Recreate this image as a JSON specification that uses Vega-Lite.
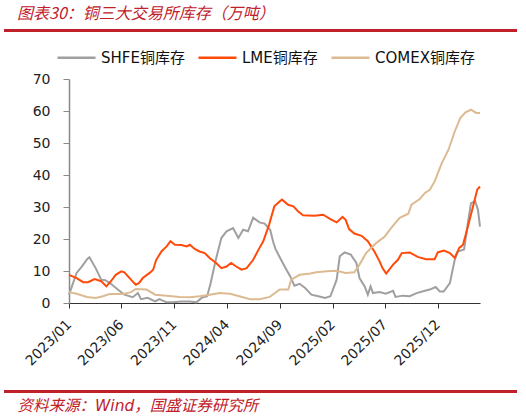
{
  "$schema": "https://vega.github.io/schema/vega-lite/v6.json",
  "autosize": "none",
  "width": 411,
  "height": 224,
  "padding": {"left": 69, "top": 79, "right": 46, "bottom": 114},
  "background": "white",
  "config": {"view": {"stroke": null}},
  "title": {
    "text": "图表30：铜三大交易所库存（万吨）",
    "anchor": "start",
    "frame": "group",
    "dx": -52,
    "offset": 8,
    "font": "Noto Sans CJK SC",
    "fontSize": 16,
    "fontStyle": "italic",
    "fontWeight": "normal",
    "color": "#C0202A"
  },
  "data": {
    "values": [
      {"d": "2023-01-01", "s": "SHFE铜库存", "v": 2.6},
      {"d": "2023-01-23", "s": "SHFE铜库存", "v": 9.4},
      {"d": "2023-02-07", "s": "SHFE铜库存", "v": 11.4},
      {"d": "2023-02-23", "s": "SHFE铜库存", "v": 13.8},
      {"d": "2023-03-01", "s": "SHFE铜库存", "v": 14.3},
      {"d": "2023-03-19", "s": "SHFE铜库存", "v": 10.9},
      {"d": "2023-04-04", "s": "SHFE铜库存", "v": 7.3},
      {"d": "2023-04-16", "s": "SHFE铜库存", "v": 7.1},
      {"d": "2023-05-02", "s": "SHFE铜库存", "v": 6.0},
      {"d": "2023-05-22", "s": "SHFE铜库存", "v": 4.2},
      {"d": "2023-06-10", "s": "SHFE铜库存", "v": 2.6},
      {"d": "2023-07-04", "s": "SHFE铜库存", "v": 1.8},
      {"d": "2023-07-19", "s": "SHFE铜库存", "v": 3.1},
      {"d": "2023-07-28", "s": "SHFE铜库存", "v": 1.2},
      {"d": "2023-08-16", "s": "SHFE铜库存", "v": 1.6},
      {"d": "2023-09-07", "s": "SHFE铜库存", "v": 0.5},
      {"d": "2023-09-19", "s": "SHFE铜库存", "v": 1.2},
      {"d": "2023-10-10", "s": "SHFE铜库存", "v": 0.2},
      {"d": "2023-10-28", "s": "SHFE铜库存", "v": 0.2},
      {"d": "2023-11-22", "s": "SHFE铜库存", "v": 0.5},
      {"d": "2023-12-16", "s": "SHFE铜库存", "v": 0.5},
      {"d": "2024-01-04", "s": "SHFE铜库存", "v": 0.2},
      {"d": "2024-01-19", "s": "SHFE铜库存", "v": 1.6},
      {"d": "2024-02-04", "s": "SHFE铜库存", "v": 2.1},
      {"d": "2024-02-14", "s": "SHFE铜库存", "v": 6.2},
      {"d": "2024-02-29", "s": "SHFE铜库存", "v": 13.5},
      {"d": "2024-03-16", "s": "SHFE铜库存", "v": 20.3},
      {"d": "2024-03-31", "s": "SHFE铜库存", "v": 22.4},
      {"d": "2024-04-19", "s": "SHFE铜库存", "v": 23.4},
      {"d": "2024-05-04", "s": "SHFE铜库存", "v": 20.3},
      {"d": "2024-05-18", "s": "SHFE铜库存", "v": 22.9},
      {"d": "2024-06-01", "s": "SHFE铜库存", "v": 22.4},
      {"d": "2024-06-16", "s": "SHFE铜库存", "v": 26.7},
      {"d": "2024-07-04", "s": "SHFE铜库存", "v": 25.2},
      {"d": "2024-07-19", "s": "SHFE铜库存", "v": 24.8},
      {"d": "2024-08-04", "s": "SHFE铜库存", "v": 22.9},
      {"d": "2024-08-13", "s": "SHFE铜库存", "v": 19.0},
      {"d": "2024-08-19", "s": "SHFE铜库存", "v": 17.0},
      {"d": "2024-09-01", "s": "SHFE铜库存", "v": 14.2},
      {"d": "2024-09-16", "s": "SHFE铜库存", "v": 11.2},
      {"d": "2024-10-01", "s": "SHFE铜库存", "v": 8.3},
      {"d": "2024-10-13", "s": "SHFE铜库存", "v": 5.4},
      {"d": "2024-10-28", "s": "SHFE铜库存", "v": 6.0},
      {"d": "2024-11-13", "s": "SHFE铜库存", "v": 4.7},
      {"d": "2024-12-01", "s": "SHFE铜库存", "v": 2.6},
      {"d": "2024-12-21", "s": "SHFE铜库存", "v": 2.1},
      {"d": "2025-01-10", "s": "SHFE铜库存", "v": 1.6},
      {"d": "2025-01-25", "s": "SHFE铜库存", "v": 2.1},
      {"d": "2025-02-12", "s": "SHFE铜库存", "v": 7.3},
      {"d": "2025-02-21", "s": "SHFE铜库存", "v": 14.6},
      {"d": "2025-03-07", "s": "SHFE铜库存", "v": 15.8},
      {"d": "2025-03-25", "s": "SHFE铜库存", "v": 15.1},
      {"d": "2025-04-10", "s": "SHFE铜库存", "v": 12.5},
      {"d": "2025-04-19", "s": "SHFE铜库存", "v": 7.8},
      {"d": "2025-05-04", "s": "SHFE铜库存", "v": 5.2},
      {"d": "2025-05-13", "s": "SHFE铜库存", "v": 2.6},
      {"d": "2025-05-21", "s": "SHFE铜库存", "v": 5.2},
      {"d": "2025-05-28", "s": "SHFE铜库存", "v": 3.1},
      {"d": "2025-06-16", "s": "SHFE铜库存", "v": 3.4},
      {"d": "2025-07-04", "s": "SHFE铜库存", "v": 2.9},
      {"d": "2025-07-25", "s": "SHFE铜库存", "v": 3.8},
      {"d": "2025-08-01", "s": "SHFE铜库存", "v": 1.9},
      {"d": "2025-08-22", "s": "SHFE铜库存", "v": 2.3},
      {"d": "2025-09-11", "s": "SHFE铜库存", "v": 2.1},
      {"d": "2025-10-01", "s": "SHFE铜库存", "v": 3.1},
      {"d": "2025-10-25", "s": "SHFE铜库存", "v": 3.8},
      {"d": "2025-11-08", "s": "SHFE铜库存", "v": 4.2},
      {"d": "2025-11-25", "s": "SHFE铜库存", "v": 5.0},
      {"d": "2025-12-07", "s": "SHFE铜库存", "v": 3.6},
      {"d": "2025-12-18", "s": "SHFE铜库存", "v": 3.6},
      {"d": "2026-01-05", "s": "SHFE铜库存", "v": 6.2},
      {"d": "2026-01-19", "s": "SHFE铜库存", "v": 13.5},
      {"d": "2026-01-28", "s": "SHFE铜库存", "v": 16.1},
      {"d": "2026-02-15", "s": "SHFE铜库存", "v": 16.7},
      {"d": "2026-02-26", "s": "SHFE铜库存", "v": 25.0},
      {"d": "2026-03-07", "s": "SHFE铜库存", "v": 31.2},
      {"d": "2026-03-19", "s": "SHFE铜库存", "v": 31.8},
      {"d": "2026-03-27", "s": "SHFE铜库存", "v": 29.2},
      {"d": "2026-04-02", "s": "SHFE铜库存", "v": 23.9},
      {"d": "2023-01-01", "s": "LME铜库存", "v": 8.8},
      {"d": "2023-01-23", "s": "LME铜库存", "v": 7.8},
      {"d": "2023-02-11", "s": "LME铜库存", "v": 6.5},
      {"d": "2023-02-25", "s": "LME铜库存", "v": 6.5},
      {"d": "2023-03-16", "s": "LME铜库存", "v": 7.5},
      {"d": "2023-04-04", "s": "LME铜库存", "v": 6.8},
      {"d": "2023-04-19", "s": "LME铜库存", "v": 5.2},
      {"d": "2023-05-02", "s": "LME铜库存", "v": 6.8},
      {"d": "2023-05-16", "s": "LME铜库存", "v": 8.8},
      {"d": "2023-06-01", "s": "LME铜库存", "v": 9.9},
      {"d": "2023-06-10", "s": "LME铜库存", "v": 9.6},
      {"d": "2023-06-29", "s": "LME铜库存", "v": 7.3},
      {"d": "2023-07-13", "s": "LME铜库存", "v": 5.7},
      {"d": "2023-07-22", "s": "LME铜库存", "v": 6.2},
      {"d": "2023-08-02", "s": "LME铜库存", "v": 7.8},
      {"d": "2023-08-22", "s": "LME铜库存", "v": 9.4},
      {"d": "2023-09-01", "s": "LME铜库存", "v": 10.4},
      {"d": "2023-09-10", "s": "LME铜库存", "v": 13.5},
      {"d": "2023-09-25", "s": "LME铜库存", "v": 16.1},
      {"d": "2023-10-10", "s": "LME铜库存", "v": 17.7},
      {"d": "2023-10-21", "s": "LME铜库存", "v": 19.3},
      {"d": "2023-11-03", "s": "LME铜库存", "v": 18.2},
      {"d": "2023-11-22", "s": "LME铜库存", "v": 18.1},
      {"d": "2023-12-07", "s": "LME铜库存", "v": 17.7},
      {"d": "2023-12-16", "s": "LME铜库存", "v": 18.2},
      {"d": "2023-12-30", "s": "LME铜库存", "v": 16.9},
      {"d": "2024-01-13", "s": "LME铜库存", "v": 16.1},
      {"d": "2024-01-28", "s": "LME铜库存", "v": 15.6},
      {"d": "2024-02-12", "s": "LME铜库存", "v": 14.0},
      {"d": "2024-03-01", "s": "LME铜库存", "v": 12.5},
      {"d": "2024-03-16", "s": "LME铜库存", "v": 10.9},
      {"d": "2024-03-31", "s": "LME铜库存", "v": 11.4},
      {"d": "2024-04-13", "s": "LME铜库存", "v": 12.5},
      {"d": "2024-04-28", "s": "LME铜库存", "v": 11.4},
      {"d": "2024-05-13", "s": "LME铜库存", "v": 10.4},
      {"d": "2024-05-28", "s": "LME铜库存", "v": 10.9},
      {"d": "2024-06-16", "s": "LME铜库存", "v": 13.5},
      {"d": "2024-07-01", "s": "LME铜库存", "v": 16.6},
      {"d": "2024-07-15", "s": "LME铜库存", "v": 19.3},
      {"d": "2024-08-01", "s": "LME铜库存", "v": 24.5},
      {"d": "2024-08-16", "s": "LME铜库存", "v": 30.2},
      {"d": "2024-09-01", "s": "LME铜库存", "v": 31.8},
      {"d": "2024-09-07", "s": "LME铜库存", "v": 32.3},
      {"d": "2024-09-25", "s": "LME铜库存", "v": 30.7},
      {"d": "2024-10-10", "s": "LME铜库存", "v": 30.2},
      {"d": "2024-10-24", "s": "LME铜库存", "v": 28.6},
      {"d": "2024-11-07", "s": "LME铜库存", "v": 27.4},
      {"d": "2024-12-10", "s": "LME铜库存", "v": 27.3},
      {"d": "2025-01-04", "s": "LME铜库存", "v": 27.6},
      {"d": "2025-01-25", "s": "LME铜库存", "v": 26.2},
      {"d": "2025-02-12", "s": "LME铜库存", "v": 25.2},
      {"d": "2025-03-01", "s": "LME铜库存", "v": 26.9},
      {"d": "2025-03-10", "s": "LME铜库存", "v": 26.0},
      {"d": "2025-03-20", "s": "LME铜库存", "v": 23.1},
      {"d": "2025-04-04", "s": "LME铜库存", "v": 21.7},
      {"d": "2025-04-25", "s": "LME铜库存", "v": 21.0},
      {"d": "2025-05-13", "s": "LME铜库存", "v": 19.3},
      {"d": "2025-06-01", "s": "LME铜库存", "v": 16.1},
      {"d": "2025-06-16", "s": "LME铜库存", "v": 13.0},
      {"d": "2025-06-24", "s": "LME铜库存", "v": 11.0},
      {"d": "2025-07-05", "s": "LME铜库存", "v": 9.2},
      {"d": "2025-07-25", "s": "LME铜库存", "v": 12.0},
      {"d": "2025-08-08", "s": "LME铜库存", "v": 13.5},
      {"d": "2025-08-19", "s": "LME铜库存", "v": 15.6},
      {"d": "2025-09-11", "s": "LME铜库存", "v": 15.8},
      {"d": "2025-10-04", "s": "LME铜库存", "v": 14.4},
      {"d": "2025-10-28", "s": "LME铜库存", "v": 13.7},
      {"d": "2025-11-22", "s": "LME铜库存", "v": 13.7},
      {"d": "2025-12-01", "s": "LME铜库存", "v": 15.8},
      {"d": "2025-12-19", "s": "LME铜库存", "v": 16.4},
      {"d": "2026-01-05", "s": "LME铜库存", "v": 15.6},
      {"d": "2026-01-19", "s": "LME铜库存", "v": 14.1},
      {"d": "2026-02-01", "s": "LME铜库存", "v": 17.2},
      {"d": "2026-02-12", "s": "LME铜库存", "v": 18.2},
      {"d": "2026-02-26", "s": "LME铜库存", "v": 23.9},
      {"d": "2026-03-13", "s": "LME铜库存", "v": 30.2},
      {"d": "2026-03-25", "s": "LME铜库存", "v": 35.4},
      {"d": "2026-04-02", "s": "LME铜库存", "v": 36.4},
      {"d": "2023-01-01", "s": "COMEX铜库存", "v": 3.4},
      {"d": "2023-01-23", "s": "COMEX铜库存", "v": 2.9},
      {"d": "2023-02-22", "s": "COMEX铜库存", "v": 1.9},
      {"d": "2023-03-19", "s": "COMEX铜库存", "v": 1.6},
      {"d": "2023-04-09", "s": "COMEX铜库存", "v": 2.1},
      {"d": "2023-04-28", "s": "COMEX铜库存", "v": 2.8},
      {"d": "2023-06-07", "s": "COMEX铜库存", "v": 2.8},
      {"d": "2023-06-29", "s": "COMEX铜库存", "v": 3.4},
      {"d": "2023-07-13", "s": "COMEX铜库存", "v": 4.4},
      {"d": "2023-08-13", "s": "COMEX铜库存", "v": 4.2},
      {"d": "2023-09-07", "s": "COMEX铜库存", "v": 2.6},
      {"d": "2023-10-10", "s": "COMEX铜库存", "v": 2.3},
      {"d": "2023-11-16", "s": "COMEX铜库存", "v": 1.9},
      {"d": "2023-12-16", "s": "COMEX铜库存", "v": 1.8},
      {"d": "2024-01-13", "s": "COMEX铜库存", "v": 2.1},
      {"d": "2024-02-12", "s": "COMEX铜库存", "v": 2.6},
      {"d": "2024-03-10", "s": "COMEX铜库存", "v": 3.1},
      {"d": "2024-04-10", "s": "COMEX铜库存", "v": 2.9},
      {"d": "2024-05-07", "s": "COMEX铜库存", "v": 2.1},
      {"d": "2024-06-07", "s": "COMEX铜库存", "v": 1.2},
      {"d": "2024-07-04", "s": "COMEX铜库存", "v": 1.2},
      {"d": "2024-08-03", "s": "COMEX铜库存", "v": 1.9},
      {"d": "2024-09-01", "s": "COMEX铜库存", "v": 4.2},
      {"d": "2024-09-25", "s": "COMEX铜库存", "v": 4.2},
      {"d": "2024-10-04", "s": "COMEX铜库存", "v": 7.3},
      {"d": "2024-10-28", "s": "COMEX铜库存", "v": 8.8},
      {"d": "2024-11-28", "s": "COMEX铜库存", "v": 9.2},
      {"d": "2024-12-16", "s": "COMEX铜库存", "v": 9.6},
      {"d": "2025-01-14", "s": "COMEX铜库存", "v": 9.9},
      {"d": "2025-02-12", "s": "COMEX铜库存", "v": 10.1},
      {"d": "2025-03-10", "s": "COMEX铜库存", "v": 9.4},
      {"d": "2025-04-04", "s": "COMEX铜库存", "v": 9.6},
      {"d": "2025-04-19", "s": "COMEX铜库存", "v": 12.0},
      {"d": "2025-05-08", "s": "COMEX铜库存", "v": 15.6},
      {"d": "2025-06-07", "s": "COMEX铜库存", "v": 18.8},
      {"d": "2025-07-01", "s": "COMEX铜库存", "v": 20.8},
      {"d": "2025-07-19", "s": "COMEX铜库存", "v": 23.4},
      {"d": "2025-08-13", "s": "COMEX铜库存", "v": 26.6},
      {"d": "2025-09-07", "s": "COMEX铜库存", "v": 27.9},
      {"d": "2025-09-16", "s": "COMEX铜库存", "v": 30.7},
      {"d": "2025-10-10", "s": "COMEX铜库存", "v": 32.5},
      {"d": "2025-10-25", "s": "COMEX铜库存", "v": 34.4},
      {"d": "2025-11-08", "s": "COMEX铜库存", "v": 35.4},
      {"d": "2025-11-22", "s": "COMEX铜库存", "v": 38.0},
      {"d": "2025-12-13", "s": "COMEX铜库存", "v": 43.8},
      {"d": "2026-01-01", "s": "COMEX铜库存", "v": 47.9},
      {"d": "2026-01-19", "s": "COMEX铜库存", "v": 53.6},
      {"d": "2026-02-04", "s": "COMEX铜库存", "v": 57.8},
      {"d": "2026-02-19", "s": "COMEX铜库存", "v": 59.6},
      {"d": "2026-03-07", "s": "COMEX铜库存", "v": 60.4},
      {"d": "2026-03-22", "s": "COMEX铜库存", "v": 59.4},
      {"d": "2026-04-02", "s": "COMEX铜库存", "v": 59.4}
    ],
    "format": {"parse": {"d": "utc:'%Y-%m-%d'"}}
  },
  "layer": [
    {
      "mark": {"type": "line", "strokeWidth": 2},
      "encoding": {
        "x": {
          "field": "d",
          "type": "temporal",
          "scale": {
            "type": "utc",
            "domain": [
              {"year": 2023, "month": 1, "date": 1, "utc": true},
              {"year": 2026, "month": 4, "date": 2, "utc": true}
            ]
          },
          "axis": {
            "values": [
              {"year": 2023, "month": 1, "date": 1, "utc": true},
              {"year": 2023, "month": 6, "date": 1, "utc": true},
              {"year": 2023, "month": 11, "date": 1, "utc": true},
              {"year": 2024, "month": 4, "date": 1, "utc": true},
              {"year": 2024, "month": 9, "date": 1, "utc": true},
              {"year": 2025, "month": 2, "date": 1, "utc": true},
              {"year": 2025, "month": 7, "date": 1, "utc": true},
              {"year": 2025, "month": 12, "date": 1, "utc": true}
            ],
            "format": "%Y/%m",
            "labelAngle": -45,
            "labelAlign": "right",
            "labelBaseline": "middle",
            "labelPadding": 14,
            "labelFont": "DejaVu Sans",
            "labelFontSize": 14,
            "labelColor": "#222222",
            "labelOverlap": false,
            "labelFlush": false,
            "grid": false,
            "domainColor": "#333333",
            "tickColor": "#333333",
            "tickSize": 5,
            "title": "资料来源：Wind，国盛证券研究所",
            "titleX": -52,
            "titleY": 102,
            "titleAlign": "left",
            "titleAnchor": "start",
            "titleBaseline": "middle",
            "titleFont": "DejaVu Sans, Noto Sans CJK SC",
            "titleFontSize": 15.5,
            "titleFontStyle": "italic",
            "titleFontWeight": "normal",
            "titleColor": "#C0202A"
          }
        },
        "y": {
          "field": "v",
          "type": "quantitative",
          "scale": {"domain": [0, 70], "nice": false},
          "axis": {
            "values": [0, 10, 20, 30, 40, 50, 60, 70],
            "labelOverlap": false,
            "labelFlush": false,
            "grid": false,
            "title": null,
            "labelFont": "DejaVu Sans",
            "labelFontSize": 14,
            "labelColor": "#222222",
            "labelPadding": 13,
            "domainColor": "#888888",
            "domainWidth": 1.5,
            "tickColor": "#888888",
            "tickSize": 6
          }
        },
        "color": {
          "field": "s",
          "type": "nominal",
          "sort": ["SHFE铜库存", "LME铜库存", "COMEX铜库存"],
          "scale": {
            "domain": ["SHFE铜库存", "LME铜库存", "COMEX铜库存"],
            "range": ["#A0A0A0", "#FF4A0A", "#DCBA92"]
          },
          "legend": {
            "orient": "none",
            "legendX": -13,
            "legendY": -42,
            "direction": "horizontal",
            "title": null,
            "symbolType": "stroke",
            "symbolSize": 1444,
            "symbolStrokeWidth": 2.5,
            "labelFont": "DejaVu Sans, Noto Sans CJK SC",
            "labelFontSize": 15,
            "labelColor": "#111111",
            "labelOffset": 4,
            "columnPadding": 8
          }
        }
      }
    },
    {
      "mark": {"type": "rule", "color": "#C0202A", "strokeWidth": 2, "clip": false},
      "encoding": {
        "x": {"datum": {"year": 2022, "month": 6, "date": 29, "utc": true}, "type": "temporal"},
        "x2": {"datum": {"year": 2026, "month": 7, "date": 16, "utc": true}},
        "y": {
          "datum": 85.1,
          "type": "quantitative",
          "scale": {"domain": [0, 70], "nice": false},
          "axis": {
            "values": [0, 10, 20, 30, 40, 50, 60, 70],
            "labelOverlap": false,
            "labelFlush": false,
            "grid": false,
            "title": null,
            "labelFont": "DejaVu Sans",
            "labelFontSize": 14,
            "labelColor": "#222222",
            "labelPadding": 13,
            "domainColor": "#888888",
            "domainWidth": 1.5,
            "tickColor": "#888888",
            "tickSize": 6
          }
        }
      }
    },
    {
      "mark": {"type": "rule", "color": "#C0202A", "strokeWidth": 2, "clip": false},
      "encoding": {
        "x": {"datum": {"year": 2022, "month": 6, "date": 29, "utc": true}, "type": "temporal"},
        "x2": {"datum": {"year": 2026, "month": 7, "date": 16, "utc": true}},
        "y": {
          "datum": -27.6,
          "type": "quantitative",
          "scale": {"domain": [0, 70], "nice": false},
          "axis": {
            "values": [0, 10, 20, 30, 40, 50, 60, 70],
            "labelOverlap": false,
            "labelFlush": false,
            "grid": false,
            "title": null,
            "labelFont": "DejaVu Sans",
            "labelFontSize": 14,
            "labelColor": "#222222",
            "labelPadding": 13,
            "domainColor": "#888888",
            "domainWidth": 1.5,
            "tickColor": "#888888",
            "tickSize": 6
          }
        }
      }
    }
  ]
}
